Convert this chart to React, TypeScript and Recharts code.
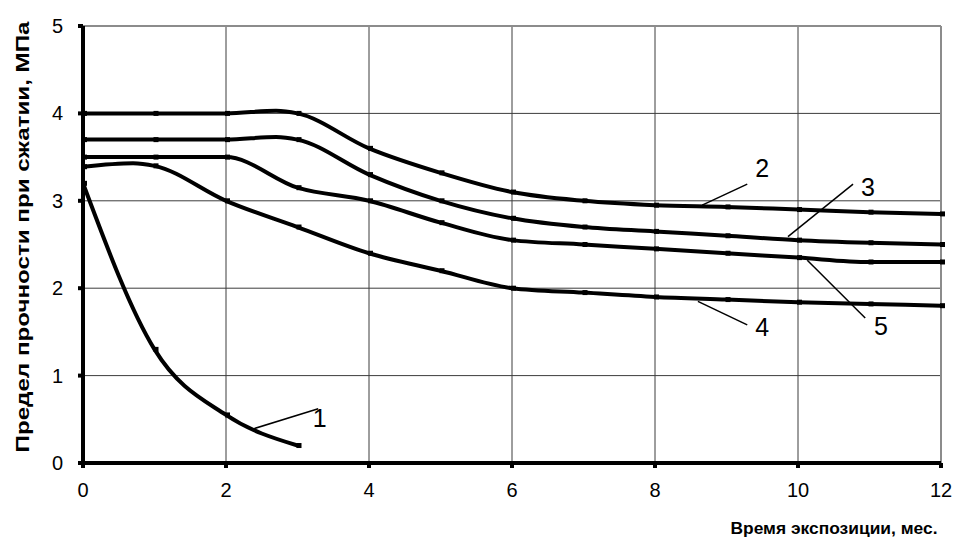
import React from 'react'
import {
  CartesianGrid,
  Label,
  Line,
  LineChart,
  ReferenceDot,
  ReferenceLine,
  XAxis,
  YAxis,
} from 'recharts'

const FONT = '"Liberation Sans", Arial, sans-serif'

// кривые: месяцы и прочность, МПа
const c1Months = [0, 1, 2, 3]
const c1Values = [3.2, 1.3, 0.55, 0.2]

const c2Months = [0, 1, 2, 2.7, 3, 4, 5, 6, 7, 8, 9, 10, 11, 12]
const c2Values = [4.0, 4.0, 4.0, 4.03, 4.0, 3.6, 3.32, 3.1, 3.0, 2.95, 2.93, 2.9, 2.87, 2.85]

const c3Months = [0, 1, 2, 2.7, 3, 4, 5, 6, 7, 8, 9, 10, 11, 12]
const c3Values = [3.7, 3.7, 3.7, 3.73, 3.7, 3.3, 3.0, 2.8, 2.7, 2.65, 2.6, 2.55, 2.52, 2.5]

const c4Months = [0, 0.7, 1, 2, 3, 4, 5, 6, 7, 8, 9, 10, 11, 12]
const c4Values = [3.39, 3.43, 3.4, 3.0, 2.7, 2.4, 2.2, 2.0, 1.95, 1.9, 1.87, 1.84, 1.82, 1.8]

const c5Months = [0, 1, 2, 3, 4, 5, 6, 7, 8, 9, 10, 11, 12]
const c5Values = [3.5, 3.5, 3.5, 3.15, 3.0, 2.75, 2.55, 2.5, 2.45, 2.4, 2.35, 2.3, 2.3]

const xTicks = [0, 2, 4, 6, 8, 10, 12]
const yTicks = [0, 1, 2, 3, 4, 5]

// подписи кривых и выноски
const calloutNames = ['1', '2', '3', '4', '5']
const calloutFrom = [
  { x: 2.38, y: 0.39 },
  { x: 8.66, y: 2.95 },
  { x: 9.86, y: 2.59 },
  { x: 8.6, y: 1.85 },
  { x: 10.13, y: 2.32 },
]
const calloutTo = [
  { x: 3.29, y: 0.62 },
  { x: 9.29, y: 3.19 },
  { x: 10.77, y: 3.19 },
  { x: 9.29, y: 1.58 },
  { x: 10.94, y: 1.66 },
]
const calloutText = [
  { x: 3.31, y: 0.51 },
  { x: 9.5, y: 3.375 },
  { x: 10.98, y: 3.16 },
  { x: 9.5, y: 1.56 },
  { x: 11.16, y: 1.57 },
]

const zip = (xs: number[], ys: number[]) => xs.map((x, i) => ({ x, y: ys[i] }))

const curves = [
  zip(c1Months, c1Values),
  zip(c2Months, c2Values),
  zip(c3Months, c3Values),
  zip(c4Months, c4Values),
  zip(c5Months, c5Values),
]

function dashDot(props: any) {
  const { cx, cy, payload, index } = props
  if (cx == null || cy == null || !Number.isInteger(payload?.x)) {
    return <g key={index} />
  }
  return <rect key={index} x={cx - 1} y={cy - 2.5} width={5} height={5} fill="#000" />
}

function XTick(props: any) {
  const { payload } = props
  return (
    <text
      x={payload.coordinate}
      y={490}
      textAnchor="middle"
      dominantBaseline="central"
      fontFamily={FONT}
      fontSize={20}
      fill="#000"
    >
      {payload.value}
    </text>
  )
}

function YTick(props: any) {
  const { payload } = props
  return (
    <text
      x={63}
      y={payload.coordinate}
      textAnchor="end"
      dominantBaseline="central"
      fontFamily={FONT}
      fontSize={20}
      fill="#000"
    >
      {payload.value}
    </text>
  )
}

export default function App() {
  return (
    <div style={{ position: 'absolute', left: 0, top: 0, background: '#fff' }}>
      <LineChart
        width={955}
        height={542}
        margin={{ top: 26, right: 14, bottom: 49, left: 0 }}
      >
        <CartesianGrid stroke="#3c3c3c" strokeWidth={1} />
        <XAxis
          dataKey="x"
          type="number"
          domain={[0, 12]}
          ticks={xTicks}
          height={30}
          tickSize={5}
          axisLine={false}
          tickLine={{ stroke: '#000', strokeWidth: 4 }}
          tick={<XTick />}
          allowDuplicatedCategory={false}
        >
          <Label
            content={() => (
              <text
                x={834}
                y={534}
                textAnchor="middle"
                fontFamily={FONT}
                fontWeight="bold"
                fontSize={17}
                textLength={207}
                lengthAdjust="spacingAndGlyphs"
                fill="#000"
              >
                Время экспозиции, мес.
              </text>
            )}
          />
        </XAxis>
        <YAxis
          type="number"
          domain={[0, 5]}
          ticks={yTicks}
          width={83}
          tickSize={5}
          axisLine={false}
          tickLine={{ stroke: '#000', strokeWidth: 4 }}
          tick={<YTick />}
        >
          <Label
            content={() => (
              <text
                x={22}
                y={237}
                transform="rotate(-90 22 237)"
                textAnchor="middle"
                dominantBaseline="central"
                fontFamily={FONT}
                fontWeight="bold"
                fontSize={19}
                textLength={431}
                lengthAdjust="spacingAndGlyphs"
                fill="#000"
              >
                Предел прочности при сжатии, МПа
              </text>
            )}
          />
        </YAxis>

        <ReferenceLine y={5} stroke="#8c8c8c" strokeWidth={2} />
        <ReferenceLine x={12} stroke="#8c8c8c" strokeWidth={2} />
        <ReferenceLine y={0} stroke="#000" strokeWidth={4} />
        <ReferenceLine x={0} stroke="#000" strokeWidth={4} />

        {curves.map((data, i) => (
          <Line
            key={i}
            data={data}
            dataKey="y"
            type="monotone"
            stroke="#000"
            strokeWidth={4}
            dot={dashDot}
            activeDot={false}
            isAnimationActive={false}
          />
        ))}

        {calloutNames.map((name, i) => (
          <ReferenceLine
            key={'l' + name}
            segment={[calloutFrom[i], calloutTo[i]]}
            stroke="#000"
            strokeWidth={1.5}
          />
        ))}
        {calloutNames.map((name, i) => (
          <ReferenceDot
            key={'t' + name}
            x={calloutText[i].x}
            y={calloutText[i].y}
            r={1}
            shape={(p: any) => (
              <text
                x={p.cx}
                y={p.cy}
                textAnchor="middle"
                dominantBaseline="central"
                fontFamily={FONT}
                fontSize={25}
                fill="#000"
              >
                {name}
              </text>
            )}
          />
        ))}
      </LineChart>
    </div>
  )
}
